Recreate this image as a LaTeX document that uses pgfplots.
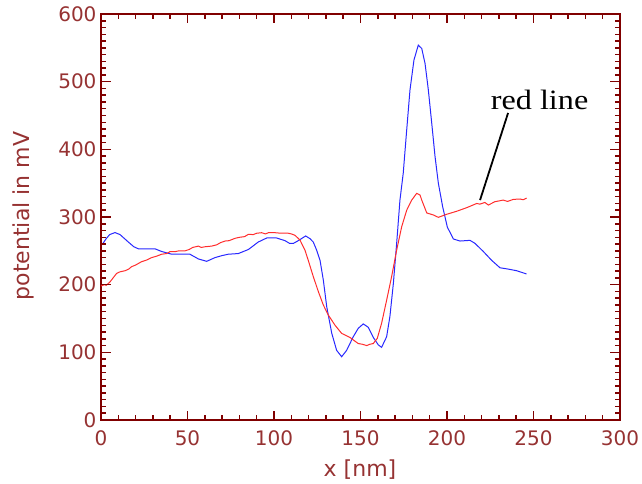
\documentclass[border=0pt]{standalone}
\usepackage{fontspec}
\setmainfont{DejaVu Sans}
\newfontfamily\timesfont{Liberation Serif}
\usepackage{pgfplots}
\pgfplotsset{compat=1.18}
\definecolor{idlred}{RGB}{128,0,0}
\definecolor{idltext}{RGB}{150,50,50}
\definecolor{lineblue}{RGB}{40,40,255}
\definecolor{linered}{RGB}{255,45,45}

\begin{document}
\begin{tikzpicture}
\begin{axis}[
    at={(0pt,0pt)}, anchor=south west,
    scale only axis, width=519pt, height=406pt,
    xmin=0, xmax=300, ymin=0, ymax=600,
    xtick={0,50,...,300}, ytick={0,100,...,600},
    minor x tick num=4, minor y tick num=9,
    tickwidth=9pt, subtickwidth=5pt,
    tick align=inside,
    axis line style={idlred, line width=1.5pt},
    tick style={color=idlred, line width=1.5pt},
    tick label style={font=\fontsize{20}{24}\selectfont, text=idltext},
    xticklabel style={yshift=-7pt},
    yticklabel style={xshift=-1pt},
    /pgf/number format/assume math mode=true,
]
% blue curve
\addplot[lineblue, line width=1pt] coordinates {
(0.6,259)(3,268)(5,274)(8.1,277)(11,274)(15.8,263)(19,256)(21.6,253)(24.5,253)
(31.2,253)(35.1,249)(40.9,245)(45,245)(51.4,245)(56.3,238)(61.1,234.5)(65.9,240)
(70,243)(73.6,245)(79.4,246)(85.2,252)(90.9,263)(95.8,269)(101.5,269)(106.4,265)
(109,261)(111.2,261)(114,265)(118.3,272)(120.8,268)(122.7,263)(124.5,252)(126.6,236)
(128.5,207)(130.5,167)(133.4,128)(136.2,103)(139.1,93.5)(142,103)(145.8,123)
(148.7,135.5)(151.6,142)(154.5,137)(157.4,122)(160.3,111)(162.2,107.4)(165.1,123)
(167,153)(169,202)(170.9,261)(172.8,325)(174.7,364.6)(176.7,428.5)(178.6,487.7)
(180.9,532)(183.4,554)(185.4,549)(187.3,527)(189.2,488)(191.2,438)(193.1,389)
(195,350)(197.5,315)(200.2,285)(203.7,267.5)(207.5,264.5)(213.3,265.5)(216.2,261)
(221,249)(225.8,236)(230.6,225)(235.4,223)(240.3,220.6)(246,215.8)
};
% red curve
\addplot[linered, line width=1pt] coordinates {
(0,198)(2,200)(3,199)(5.2,204)(7,210)(9,216.6)(11,219)(13.9,220.6)(16,223)
(17.7,226.6)(20,229)(23.5,234)(26,236)(29.3,240)(32,242)(35.1,245)(38,246)(40,249)
(42.8,248.8)(45,250)(48.6,250)(51,252)(53,255)(56.3,257)(58,255)(60,256)(64,257)
(67,259)(69,262)(71.7,264.5)(74,265)(77.5,268.5)(80,270)(83,271)(85.2,274.4)
(88,274)(90,276)(92.9,276.8)(95,275)(97,277)(100.6,276.8)(104,276)(108.3,276)
(110,275)(112.1,273)(115,266)(117.9,251)(119.8,236)(122.7,212)(125.6,190)
(128.5,170)(131.4,155)(135.3,140)(139.1,128)(143.9,122)(146,118)(148.7,113)
(151,112)(153.6,110)(155.5,112)(157.4,113)(159.7,120.7)(162.2,143)(165.1,177)
(168,212)(170.9,251)(173.8,285.6)(176.7,310)(179.6,325)(182.5,335)(184.4,332.5)
(185.4,325)(188.3,306)(192.1,303)(195,299.5)(199.8,304)(205.6,308.5)(211.4,313.8)
(217.2,320)(219,319)(221.9,321.5)(223.9,317.7)(227.7,322.6)(232.5,325)(235,323)
(238.3,326)(242.2,326.6)(244,325.5)(246,328)
};
% annotation
\draw[black, line width=1.8pt] (axis cs:235.3,453.7) -- (axis cs:219.1,325);
\node[inner sep=0pt, font=\timesfont\fontsize{28}{32}\selectfont]
    at (axis cs:253.5,473) {\scalebox{1.15}[1]{red line}};
\end{axis}
% tick marks on all four sides (axis box is 519pt x 406pt at the origin)
\foreach \i in {0,...,30} {
  \draw[idlred, line width=1.2pt] (\i*17.3pt,0pt) -- ++(0pt,5pt);
  \draw[idlred, line width=1.2pt] (\i*17.3pt,406pt) -- ++(0pt,-5pt);
}
\foreach \i in {0,...,6} {
  \draw[idlred, line width=1.5pt] (\i*86.5pt,0pt) -- ++(0pt,9pt);
  \draw[idlred, line width=1.5pt] (\i*86.5pt,406pt) -- ++(0pt,-9pt);
}
\foreach \i in {0,...,60} {
  \draw[idlred, line width=1.2pt] (0pt,\i*6.7667pt) -- ++(5pt,0pt);
  \draw[idlred, line width=1.2pt] (519pt,\i*6.7667pt) -- ++(-5pt,0pt);
}
\foreach \i in {0,...,6} {
  \draw[idlred, line width=1.5pt] (0pt,\i*67.667pt) -- ++(10pt,0pt);
  \draw[idlred, line width=1.5pt] (519pt,\i*67.667pt) -- ++(-10pt,0pt);
}
\node[rotate=90, anchor=base, text=idltext, font=\fontsize{22}{26}\selectfont]
    at (-71pt,204pt) {potential in mV};
\node[anchor=base, text=idltext, font=\fontsize{22}{26}\selectfont]
    at (259pt,-56pt) {x [nm]};
\pgfresetboundingbox
\path[use as bounding box] (-101pt,-63pt) rectangle (541pt,420pt);
\end{tikzpicture}
\end{document}
